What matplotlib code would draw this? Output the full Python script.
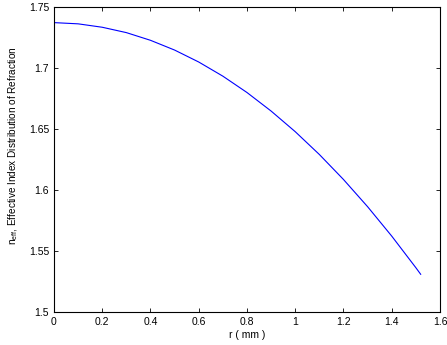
import matplotlib
matplotlib.use('Agg')
import matplotlib.pyplot as plt

plt.rcParams['font.family'] = ['Liberation Sans', 'DejaVu Sans']
plt.rcParams['mathtext.fontset'] = 'custom'
plt.rcParams['mathtext.rm'] = 'Liberation Sans'
plt.rcParams['mathtext.it'] = 'Liberation Sans'

# radius (mm) and effective index
r = [0.0, 0.1, 0.2, 0.3, 0.4, 0.5, 0.6, 0.7, 0.8, 0.9,
     1.0, 1.1, 1.2, 1.3, 1.4, 1.5, 1.52]
n_eff = [1.7372, 1.7362, 1.7334, 1.7290, 1.7227, 1.7147, 1.7049, 1.6933, 1.6799, 1.6647,
         1.6478, 1.6291, 1.6086, 1.5863, 1.5622, 1.5363, 1.5309]

xticks = [0, 0.2, 0.4, 0.6, 0.8, 1, 1.2, 1.4, 1.6]
yticks = [1.5, 1.55, 1.6, 1.65, 1.7, 1.75]

fig = plt.figure(figsize=(4.47, 3.45), dpi=100)
ax = fig.add_axes([0.1208, 0.0957, 0.8635, 0.884])
ax.plot(r, n_eff, color='#0000ff', linewidth=0.8)

ax.set_xlim(0, 1.6)
ax.set_ylim(1.5, 1.75)
ax.set_xticks(xticks)
ax.set_xticklabels(['0', '0.2', '0.4', '0.6', '0.8', '1', '1.2', '1.4', '1.6'])
ax.set_yticks(yticks)
ax.set_yticklabels(['1.5', '1.55', '1.6', '1.65', '1.7', '1.75'])
ax.tick_params(direction='in', top=True, right=True, labelsize=7.5, length=3, width=0.6)
for s in ax.spines.values():
    s.set_linewidth(0.8)

ax.set_xlabel('r ( mm )', fontsize=7.5, labelpad=2)
ax.set_ylabel(r'n$_{\mathrm{eff}}$, Effective Index Distribution of Refraction', fontsize=7.2, labelpad=6)
ax.yaxis.set_label_coords(-0.088, 0.545)

fig.savefig('out.png', dpi=100)
